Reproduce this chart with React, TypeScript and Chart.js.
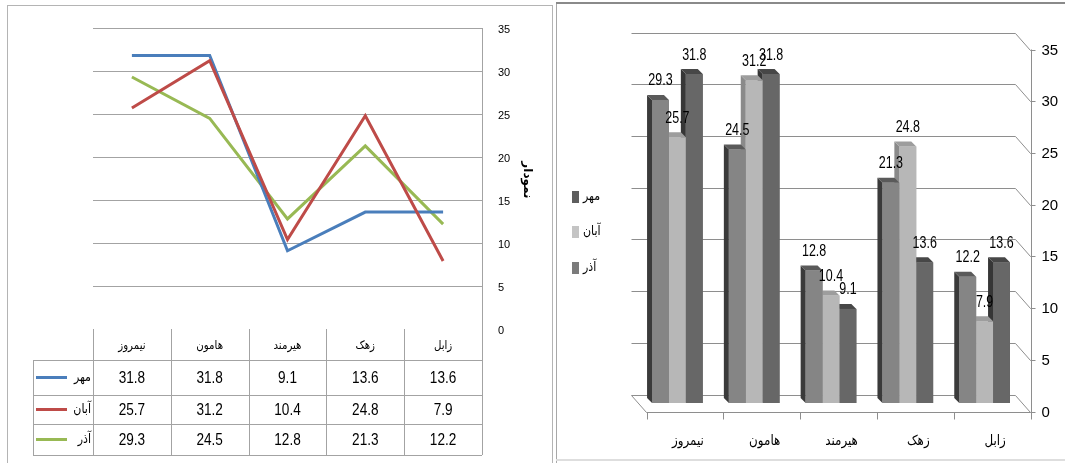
import React, { useEffect, useRef } from "react";
import { Chart, registerables } from "chart.js";

Chart.register(...registerables);

// ---- data ----
const districts = ["نیمروز", "هامون", "هیرمند", "زهک", "زابل"];
const mehrValues = [31.8, 31.8, 9.1, 13.6, 13.6];
const abanValues = [25.7, 31.2, 10.4, 24.8, 7.9];
const azarValues = [29.3, 24.5, 12.8, 21.3, 12.2];
const yTicks = [0, 5, 10, 15, 20, 25, 30, 35];
const lineAxisTitle = "نمودار";

const MEHR = "مهر";
const ABAN = "آبان";
const AZAR = "آذر";

const ARABIC_FONT = '"DejaVu Sans", "Noto Sans", sans-serif';
const LATIN_FONT = '"Liberation Sans", Arial, sans-serif';

type TextOpts = {
  font: string;
  color?: string;
  align?: CanvasTextAlign;
  baseline?: CanvasTextBaseline;
  scaleX?: number;
  rotate?: number;
};

function drawText(ctx: CanvasRenderingContext2D, text: string, x: number, y: number, o: TextOpts) {
  ctx.save();
  ctx.translate(x, y);
  if (o.rotate) ctx.rotate(o.rotate);
  ctx.scale(o.scaleX ?? 1, 1);
  ctx.font = o.font;
  ctx.fillStyle = o.color ?? "#000";
  ctx.textAlign = o.align ?? "center";
  ctx.textBaseline = o.baseline ?? "middle";
  ctx.fillText(text, 0, 0);
  ctx.restore();
}

function hLine(ctx: CanvasRenderingContext2D, x1: number, x2: number, y: number) {
  ctx.beginPath();
  ctx.moveTo(x1, Math.round(y) + 0.5);
  ctx.lineTo(x2, Math.round(y) + 0.5);
  ctx.stroke();
}

function vLine(ctx: CanvasRenderingContext2D, x: number, y1: number, y2: number) {
  ctx.beginPath();
  ctx.moveTo(Math.round(x) + 0.5, y1);
  ctx.lineTo(Math.round(x) + 0.5, y2);
  ctx.stroke();
}

// ---- line chart with data table ----
const lineSeries = [
  { label: MEHR, values: mehrValues, color: "#4a7ebb", order: 1 },
  { label: ABAN, values: abanValues, color: "#be4b48", order: 0 },
  { label: AZAR, values: azarValues, color: "#98b954", order: 2 },
];

// table row edges (header row, then one row per series)
const tableRows = [329, 360, 395, 424, 455];
const tableLeft = 33;

const lineFramePlugin = {
  id: "lineFrame",
  beforeDatasetsDraw(chart: any) {
    const { ctx, chartArea, scales } = chart;
    const y = scales.y;
    ctx.save();
    // panel frame
    ctx.strokeStyle = "#b4b4b4";
    ctx.lineWidth = 1;
    ctx.strokeRect(7.5, 5.5, 545, 470);

    // horizontal grid
    ctx.strokeStyle = "#a3a3a3";
    for (const v of yTicks) {
      if (v === 0) continue;
      hLine(ctx, chartArea.left, chartArea.right, y.getPixelForValue(v));
    }
    // right axis line runs down through the table
    vLine(ctx, chartArea.right, y.getPixelForValue(35), tableRows[tableRows.length - 1]);

    // tick labels on the right
    for (const v of yTicks) {
      drawText(ctx, String(v), chartArea.right + 16, y.getPixelForValue(v) + 2, {
        font: `11px ${LATIN_FONT}`,
        align: "left",
      });
    }
    // axis title
    drawText(ctx, lineAxisTitle, chartArea.right + 45, 180, {
      font: `bold 12px ${ARABIC_FONT}`,
      rotate: Math.PI / 2,
    });
    ctx.restore();
  },
  afterDatasetsDraw(chart: any) {
    const { ctx, chartArea, scales } = chart;
    const x = scales.x;
    const n = districts.length;
    const colW = (chartArea.right - chartArea.left) / n;
    ctx.save();
    ctx.strokeStyle = "#a3a3a3";
    ctx.lineWidth = 1;
    const top = tableRows[0];
    const bottom = tableRows[tableRows.length - 1];
    // horizontal rules of the body rows
    for (let r = 1; r < tableRows.length; r++) {
      hLine(ctx, tableLeft, chartArea.right, tableRows[r]);
    }
    // vertical rules
    vLine(ctx, tableLeft, tableRows[1], bottom);
    for (let c = 0; c <= n; c++) {
      vLine(ctx, chartArea.left + c * colW, top, bottom);
    }
    // header: district names
    districts.forEach((d, i) => {
      drawText(ctx, d, x.getPixelForValue(i), (tableRows[0] + tableRows[1]) / 2 + 1, {
        font: `12px ${ARABIC_FONT}`,
        scaleX: 0.85,
      });
    });
    // body rows
    lineSeries.forEach((s, r) => {
      const yc = (tableRows[r + 1] + tableRows[r + 2]) / 2;
      ctx.strokeStyle = s.color;
      ctx.lineWidth = 3;
      ctx.beginPath();
      ctx.moveTo(36, yc);
      ctx.lineTo(67, yc);
      ctx.stroke();
      drawText(ctx, s.label, chartArea.left - 2, yc, {
        font: `13px ${ARABIC_FONT}`,
        align: "right",
        scaleX: 0.85,
      });
      s.values.forEach((v, i) => {
        drawText(ctx, v.toFixed(1), x.getPixelForValue(i), yc + 1, {
          font: `17px ${LATIN_FONT}`,
          scaleX: 0.8,
        });
      });
    });
    ctx.restore();
  },
};

// ---- 3D-looking bar chart ----
const barSeries = [
  { label: AZAR, values: azarValues, front: "#858585", side: "#3a3a3a", top: "#5a5a5a", key: "#7b7b7b" },
  { label: ABAN, values: abanValues, front: "#b7b7b7", side: "#8a8a8a", top: "#9d9d9d", key: "#c4c4c4" },
  { label: MEHR, values: mehrValues, front: "#676767", side: "#363636", top: "#474747", key: "#5e5e5e" },
];
const legendOrder = [MEHR, ABAN, AZAR];

const DX = 7.5; // half depth of the plot box
const DY = 8.5;
const BAR_DEPTH = 5;

function fillPoly(ctx: CanvasRenderingContext2D, pts: number[][], color: string) {
  ctx.beginPath();
  ctx.moveTo(pts[0][0], pts[0][1]);
  for (let i = 1; i < pts.length; i++) ctx.lineTo(pts[i][0], pts[i][1]);
  ctx.closePath();
  ctx.fillStyle = color;
  ctx.fill();
}

const bar3dPlugin = {
  id: "bar3d",
  beforeDatasetsDraw(chart: any) {
    const { ctx, chartArea, scales } = chart;
    const y = scales.y;
    const L = chartArea.left;
    const R = chartArea.right;
    ctx.save();
    // panel frame
    ctx.strokeStyle = "#a8a8a8";
    ctx.lineWidth = 1;
    vLine(ctx, 1, 3, 463);
    ctx.strokeStyle = "#8a8a8a";
    ctx.lineWidth = 2;
    ctx.beginPath();
    ctx.moveTo(1, 3);
    ctx.lineTo(520, 3);
    ctx.stroke();
    ctx.strokeStyle = "#dedede";
    ctx.lineWidth = 2;
    ctx.beginPath();
    ctx.moveTo(1, 460);
    ctx.lineTo(520, 460);
    ctx.stroke();

    // back wall grid with the side fold to the front axis
    ctx.strokeStyle = "#8e8e8e";
    ctx.lineWidth = 1;
    for (const v of yTicks) {
      const yb = Math.round(y.getPixelForValue(v) - DY) + 0.5;
      ctx.beginPath();
      ctx.moveTo(L - DX, yb);
      ctx.lineTo(R - DX, yb);
      ctx.lineTo(R + DX, yb + 2 * DY);
      ctx.stroke();
    }
    // floor
    const y0 = y.getPixelForValue(0);
    const yf = Math.round(y0 + DY) + 0.5;
    ctx.beginPath();
    ctx.moveTo(L - DX, Math.round(y0 - DY) + 0.5);
    ctx.lineTo(L + DX, yf);
    ctx.lineTo(R + DX, yf);
    ctx.stroke();
    // front value axis
    vLine(ctx, R + DX, y.getPixelForValue(35) + DY, yf);
    for (const v of yTicks) {
      hLine(ctx, R + DX, R + DX + 5, y.getPixelForValue(v) + DY);
      drawText(ctx, String(v), R + DX + 11, y.getPixelForValue(v) + DY + 1, {
        font: `15px ${LATIN_FONT}`,
        align: "left",
      });
    }
    // category ticks and names
    const n = districts.length;
    const catW = (R - L) / n;
    for (let i = 0; i <= n; i++) vLine(ctx, L + DX + i * catW, yf, yf + 7);
    districts.forEach((d, i) => {
      drawText(ctx, d, scales.x.getPixelForValue(i) + DX + 3, 441, {
        font: `14px ${ARABIC_FONT}`,
        scaleX: 0.85,
      });
    });

    // legend
    legendOrder.forEach((name, k) => {
      const s = barSeries.find((b) => b.label === name)!;
      const cy = [197, 232, 268][k];
      ctx.fillStyle = s.key;
      ctx.fillRect(17, cy - 6, 7, 12);
      drawText(ctx, name, 28, cy, { font: `13px ${ARABIC_FONT}`, align: "left", scaleX: 0.85 });
    });
    ctx.restore();
  },
  afterDatasetsDraw(chart: any) {
    const { ctx } = chart;
    const metas = barSeries.map((_, i) => chart.getDatasetMeta(i));
    ctx.save();
    for (let c = 0; c < districts.length; c++) {
      // right to left so nearer bars hide the sides of their neighbours
      for (let d = metas.length - 1; d >= 0; d--) {
        const el = metas[d].data[c];
        const { x, y, base, width } = el.getProps(["x", "y", "base", "width"], true);
        const l = x - width / 2;
        const r = x + width / 2;
        const s = barSeries[d];
        const k = BAR_DEPTH;
        fillPoly(ctx, [[l, y], [l - k, y - k], [l - k, base - k], [l, base]], s.side);
        fillPoly(ctx, [[l, y], [l - k, y - k], [r - k, y - k], [r, y]], s.top);
        ctx.fillStyle = s.front;
        ctx.fillRect(l, y, r - l, base - y);
      }
    }
    // value labels
    metas.forEach((meta, d) => {
      meta.data.forEach((el: any, i: number) => {
        const { x, y } = el.getProps(["x", "y"], true);
        drawText(ctx, barSeries[d].values[i].toFixed(1), x, y - 19, {
          font: `16px ${LATIN_FONT}`,
          scaleX: 0.78,
        });
      });
    });
    ctx.restore();
  },
};

export default function App() {
  const lineRef = useRef<HTMLCanvasElement>(null);
  const barRef = useRef<HTMLCanvasElement>(null);

  useEffect(() => {
    const lineChart = new Chart(lineRef.current!, {
      type: "line",
      data: {
        labels: districts,
        datasets: lineSeries.map((s) => ({
          label: s.label,
          data: s.values,
          borderColor: s.color,
          backgroundColor: s.color,
          borderWidth: 3,
          pointRadius: 0,
          tension: 0,
          order: s.order,
        })),
      },
      options: {
        animation: false,
        responsive: false,
        layout: { padding: { left: 93, right: 73, top: 28, bottom: 134 } },
        plugins: { legend: { display: false }, tooltip: { enabled: false } },
        scales: {
          x: { display: false, offset: true },
          y: { display: false, min: 0, max: 35 },
        },
      },
      plugins: [lineFramePlugin],
    });

    const barChart = new Chart(barRef.current!, {
      type: "bar",
      data: {
        labels: districts,
        datasets: barSeries.map((s) => ({
          label: s.label,
          data: s.values,
          backgroundColor: s.front,
          borderWidth: 0,
          categoryPercentage: 0.66,
          barPercentage: 1,
        })),
      },
      options: {
        animation: false,
        responsive: false,
        layout: { padding: { left: 84, right: 42, top: 41, bottom: 60 } },
        plugins: { legend: { display: false }, tooltip: { enabled: false } },
        scales: {
          x: { display: false },
          y: { display: false, min: 0, max: 35 },
        },
      },
      plugins: [bar3dPlugin],
    });

    return () => {
      lineChart.destroy();
      barChart.destroy();
    };
  }, []);

  return (
    <div
      style={{
        position: "fixed",
        left: 0,
        top: 0,
        width: 1065,
        height: 463,
        background: "#fff",
        overflow: "hidden",
      }}
    >
      <canvas
        ref={lineRef}
        width={555}
        height={463}
        style={{ position: "absolute", left: 0, top: 0, width: 555, height: 463 }}
      />
      <canvas
        ref={barRef}
        width={510}
        height={463}
        style={{ position: "absolute", left: 555, top: 0, width: 510, height: 463 }}
      />
    </div>
  );
}
